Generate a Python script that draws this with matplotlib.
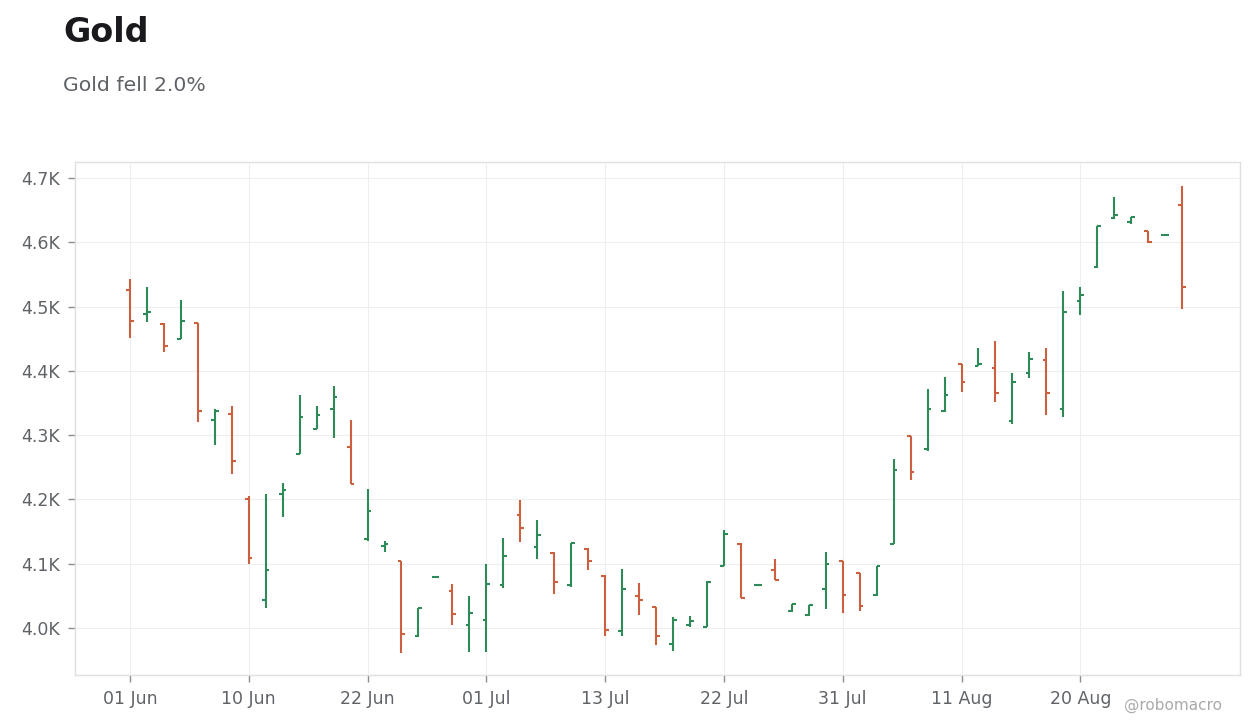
import pandas as pd
import numpy as np
import matplotlib
matplotlib.use("Agg")
import matplotlib.pyplot as plt

# trading days Jun 1 - Aug 28 (Juneteenth and Jul 3 closed)
dates = pd.bdate_range("2026-06-01", "2026-08-28")
dates = dates[~dates.isin(pd.to_datetime(["2026-06-19", "2026-07-03"]))]

opens = [4526, 4489, 4473, 4449, 4475, 4324, 4333, 4201, 4043, 4209,
         4271, 4310, 4340, 4281, 4138, 4128, 4104, 3988, 4079, 4058,
         4004, 4013, 4067, 4176, 4126, 4117, 4067, 4123, 4081, 3996,
         4050, 4032, 3976, 4004, 4002, 4097, 4131, 4067, 4091, 4027,
         4020, 4061, 4104, 4085, 4052, 4131, 4298, 4278, 4337, 4410,
         4407, 4404, 4322, 4396, 4417, 4340, 4508, 4561, 4638, 4631,
         4617, 4611, 4658]
highs = [4543, 4530, 4474, 4511, 4475, 4341, 4346, 4206, 4209, 4225,
         4363, 4346, 4377, 4324, 4216, 4135, 4104, 4031, 4079, 4069,
         4050, 4100, 4140, 4199, 4168, 4119, 4132, 4125, 4082, 4092,
         4070, 4032, 4017, 4019, 4073, 4152, 4132, 4067, 4107, 4037,
         4036, 4119, 4104, 4085, 4097, 4263, 4299, 4372, 4391, 4410,
         4435, 4446, 4397, 4430, 4435, 4525, 4531, 4625, 4671, 4639,
         4617, 4611, 4688]
lows = [4451, 4476, 4429, 4449, 4320, 4285, 4240, 4100, 4031, 4173,
        4270, 4310, 4296, 4224, 4135, 4118, 3962, 3986, 4079, 4004,
        3963, 3963, 4063, 4134, 4108, 4053, 4064, 4091, 3987, 3987,
        4021, 3973, 3965, 4002, 4001, 4096, 4046, 4067, 4074, 4025,
        4018, 4029, 4023, 4027, 4050, 4130, 4230, 4276, 4336, 4367,
        4407, 4351, 4317, 4389, 4332, 4329, 4487, 4560, 4636, 4628,
        4599, 4611, 4496]
closes = [4478, 4491, 4438, 4478, 4338, 4337, 4260, 4109, 4090, 4215,
          4329, 4332, 4360, 4224, 4182, 4131, 3990, 4031, 4079, 4022,
          4024, 4069, 4112, 4156, 4145, 4072, 4132, 4105, 3997, 4061,
          4044, 3987, 4013, 4011, 4072, 4147, 4047, 4067, 4075, 4037,
          4036, 4100, 4051, 4035, 4096, 4246, 4243, 4341, 4363, 4383,
          4410, 4365, 4382, 4419, 4366, 4492, 4518, 4625, 4642, 4639,
          4600, 4611, 4531]

df = pd.DataFrame({"open": opens, "high": highs, "low": lows, "close": closes}, index=dates)
x = np.arange(len(df))

UP = "#2e8b57"
DOWN = "#cc5f3e"
TXT = "#5f6368"
colors = np.where(df["close"] >= df["open"], UP, DOWN)

fig = plt.figure(figsize=(12.6, 7.28), dpi=100)
ax = fig.add_axes([0.0595, 0.0728, 0.9245, 0.7047])

tick_w = 0.22
ax.vlines(x, df["low"], df["high"], colors=colors, linewidth=1.5, zorder=3)
ax.hlines(df["open"], x - tick_w, x, colors=colors, linewidth=1.5, zorder=3)
ax.hlines(df["close"], x, x + tick_w, colors=colors, linewidth=1.5, zorder=3)

ax.set_xlim(-3.24, 65.4)
ax.set_ylim(3927, 4725)

tick_pos = x[::7]
ax.set_xticks(tick_pos)
ax.set_xticklabels([d.strftime("%d %b") for d in df.index[::7]])
yt = np.arange(4000, 4701, 100)
ax.set_yticks(yt)
ax.set_yticklabels([f"{v/1000:.1f}K" for v in yt])

ax.grid(True, color="#eeeeee", linewidth=0.8, zorder=0)
for s in ax.spines.values():
    s.set_color("#e0e0e0")
    s.set_linewidth(1.0)
ax.tick_params(axis="both", colors="#8a8d91", labelcolor=TXT, labelsize=12.5,
               length=5, width=1, direction="out", pad=6)

fig.text(0.0505, 1 - 42 / 728, "Gold", fontsize=24, fontweight="bold",
         color="#1a1a1e", va="baseline", ha="left")
fig.text(0.05, 1 - 91 / 728, "Gold fell 2.0%", fontsize=14.7,
         color=TXT, va="baseline", ha="left")
fig.text(1222 / 1260, 1 - 705 / 728, "@robomacro", fontsize=11,
         color="#aaaaaa", va="center", ha="right")

fig.savefig("out.png", dpi=100)
